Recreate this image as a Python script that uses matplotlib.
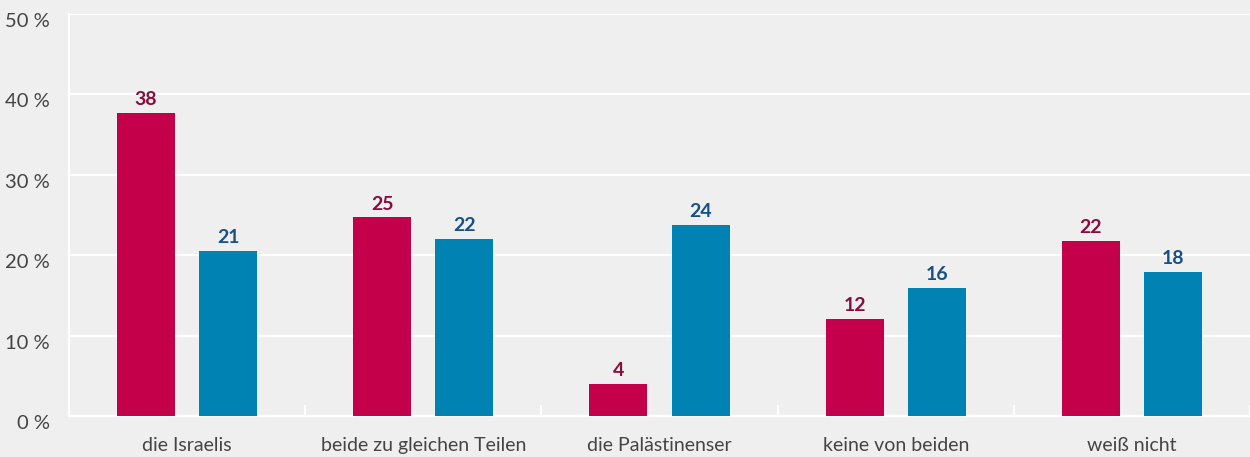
import matplotlib
matplotlib.use("Agg")
import matplotlib.pyplot as plt
import matplotlib.transforms as mtransforms
import numpy as np

categories = ["die Israelis", "beide zu gleichen Teilen", "die Palästinenser", "keine von beiden", "weiß nicht"]
series_a = [37.7, 24.7, 4.0, 12.1, 21.8]
series_b = [20.5, 22.0, 23.8, 15.9, 17.9]
labels_a = ["38", "25", "4", "12", "22"]
labels_b = ["21", "22", "24", "16", "18"]
yticks = [0, 10, 20, 30, 40, 50]
ytick_labels = ["0 %", "10 %", "20 %", "30 %", "40 %", "50 %"]

bg = "#efefef"
red = "#c5004a"
blue = "#0083b3"
red_txt = "#8a0b3c"
blue_txt = "#174f8a"
txt = "#444444"

plt.rcParams["font.family"] = ["Lato", "DejaVu Sans"]

fig = plt.figure(figsize=(12.5, 4.57), dpi=100, facecolor=bg)
ax = fig.add_axes([69/1250, 41/457, 1 - 69/1250, (416-14)/457])
ax.set_facecolor(bg)

x = np.arange(len(categories))
w = 0.245
off = 0.174
ax.bar(x - off, series_a, w, color=red, zorder=3)
ax.bar(x + off, series_b, w, color=blue, zorder=3)

for xi, v, l in zip(x, series_a, labels_a):
    ax.annotate(l, (xi - off, v), xytext=(0, 3.5), textcoords="offset points",
                ha="center", va="bottom", fontsize=14, fontweight="bold", color=red_txt, zorder=4)
for xi, v, l in zip(x, series_b, labels_b):
    ax.annotate(l, (xi + off, v), xytext=(0, 3.5), textcoords="offset points",
                ha="center", va="bottom", fontsize=14, fontweight="bold", color=blue_txt, zorder=4)

ax.set_xlim(-0.5, len(categories) - 0.5)
ax.set_ylim(0, 50)
ax.set_yticks(yticks)
ax.set_yticklabels(ytick_labels, fontsize=14.5, color=txt)
ax.yaxis.grid(True, color="white", linewidth=1.6, zorder=1)
ax.tick_params(axis="y", length=0, pad=14)
shift = mtransforms.ScaledTranslation(0, -6/100, fig.dpi_scale_trans)
for lab in ax.get_yticklabels():
    lab.set_transform(lab.get_transform() + shift)

ax.set_xticks(np.arange(len(categories) + 1) - 0.5)
ax.set_xticklabels([])
ax.set_xticks(x, minor=True)
ax.set_xticklabels(categories, minor=True, fontsize=14, color=txt)
ax.tick_params(axis="x", which="major", direction="in", length=8, width=1.5, color="white")
ax.tick_params(axis="x", which="minor", length=0, pad=15)

for s in ["top", "right"]:
    ax.spines[s].set_visible(False)
ax.spines["left"].set_color("white")
ax.spines["left"].set_linewidth(1.6)
ax.spines["bottom"].set_color("white")
ax.spines["bottom"].set_linewidth(1.6)

fig.savefig("out.png", dpi=100, facecolor=bg)
